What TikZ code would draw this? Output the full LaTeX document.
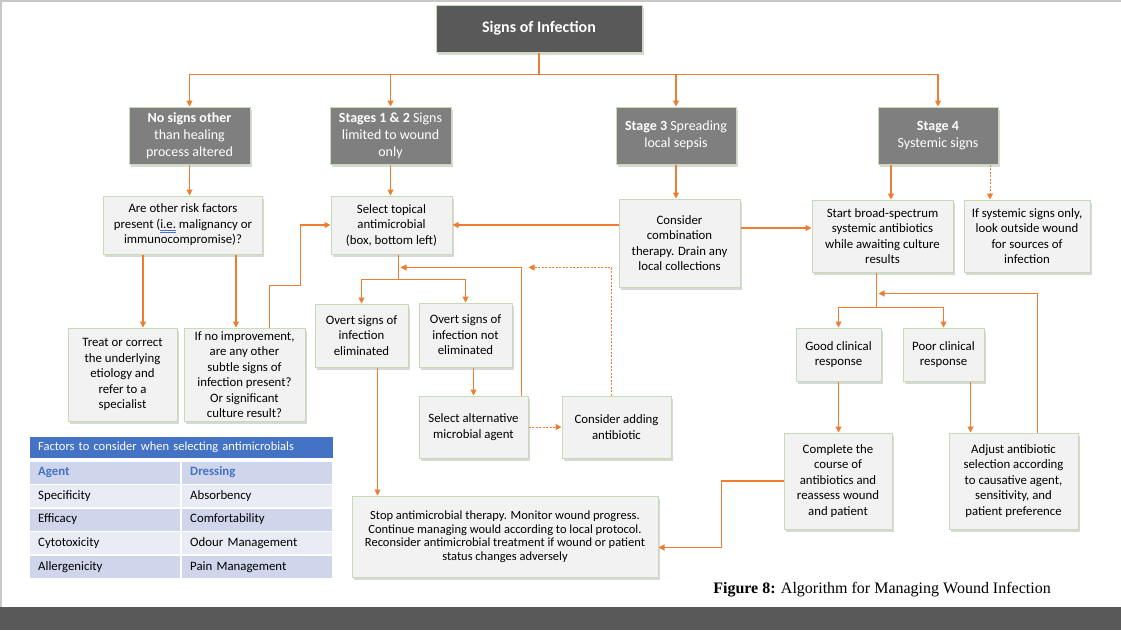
\documentclass[tikz,border=0pt]{standalone}
\usepackage{fontspec}
\setmainfont{Carlito}
\newfontfamily\captionfont{Liberation Serif}
\usetikzlibrary{arrows.meta,positioning,shadows}
\definecolor{arroworange}{RGB}{237,125,49}
\definecolor{darkgrey}{RGB}{89,89,89}
\definecolor{stagegrey}{RGB}{127,127,127}
\definecolor{boxfill}{RGB}{242,242,242}
\definecolor{boxedge}{RGB}{197,220,180}
\definecolor{tableblue}{RGB}{68,114,196}
\definecolor{rowdark}{RGB}{207,213,234}
\definecolor{rowlight}{RGB}{233,235,245}
\definecolor{framegrey}{RGB}{200,200,200}
\definecolor{spellblue}{RGB}{80,110,210}
\newcommand{\dblunder}[1]{\setbox0\hbox{#1}\rlap{\color{spellblue}\rule[-2.2pt]{\wd0}{0.6pt}}\rlap{\color{spellblue}\rule[-3.8pt]{\wd0}{0.6pt}}\box0\relax}

\begin{document}
\begin{tikzpicture}[x=1pt, y=-1pt,
    boxshadow/.style={drop shadow={shadow xshift=1.5pt, shadow yshift=-2.5pt, opacity=0.3}},
    headbox/.style={draw=boxedge, line width=1pt, fill=darkgrey, text=white, minimum width=206pt, minimum height=47pt, font=\fontsize{16}{19}\selectfont\bfseries, boxshadow},
    stage/.style={draw=boxedge, line width=1pt, fill=stagegrey, text=white, minimum height=57pt, align=center, inner sep=0pt, font=\fontsize{14}{17}\selectfont, boxshadow},
    box/.style={draw=boxedge, line width=1pt, fill=boxfill, align=center, inner sep=0pt, font=\fontsize{12.8}{15.5}\selectfont, boxshadow},
    cell/.style={fill=rowdark, minimum height=22pt, text width=134pt, inner xsep=8pt, inner ysep=0pt, align=left, anchor=west, font=\fontsize{12.8}{15}\selectfont},
    arr/.style={-{Triangle[length=6pt,width=6pt]}, line width=1.1pt, draw=arroworange},
    dotarr/.style={arr, line width=1pt, dash pattern=on 2pt off 1.5pt}
]
\useasboundingbox (0,0) rectangle (1121,630);
\fill[white] (0,0) rectangle (1121,630);
\draw[framegrey, line width=1.5pt] (1,607) -- (1,0.75) -- (1121,0.75);
\fill[darkgrey] (0,607) rectangle (1121,630);

% top and stages
\node[headbox] (top) at (539,28.5) {Signs of Infection};
\node[stage, minimum width=121pt] (s0) at (189.5,135.5) {\textbf{No signs other}\\than healing\\process altered};
\node[stage, minimum width=121pt] (s12) at (390.5,135.5) {\textbf{Stages 1 \& 2} Signs\\limited to wound\\only};
\node[stage, minimum width=120pt] (s3) at (676,135.5) {\textbf{Stage 3} Spreading\\local sepsis};
\node[stage, minimum width=120pt] (s4) at (938,135.5) {\textbf{Stage 4}\\Systemic signs};

\draw[arroworange, line width=1.1pt] (top.south) -- ++(0,22) coordinate (hub);
\draw[arr] (hub) -| (s0.north);
\draw[arr] (hub) -| (s12.north);
\draw[arr] (hub) -| (s3.north);
\draw[arr] (hub) -| (s4.north);

% second row
\node[box, minimum width=159pt, minimum height=58pt] (risk) at (183,225) {Are other risk factors\\present (\dblunder{i.e.} malignancy or\\immunocompromise)?};
\node[box, minimum width=121pt, minimum height=58pt] (topical) at (391.5,225) {Select topical\\antimicrobial\\(box, bottom left)};
\node[box, minimum width=121pt, minimum height=88pt] (comb) at (679.5,243) {Consider\\combination\\therapy. Drain any\\local collections};
\node[box, minimum width=141pt, minimum height=72pt] (broad) at (882.5,236) {Start broad-spectrum\\systemic antibiotics\\while awaiting culture\\results};
\node[box, minimum width=126pt, minimum height=72pt] (outside) at (1027,236) {If systemic signs only,\\look outside wound\\for sources of\\infection};

\draw[arr] (s0.south) -- (s0.south |- risk.north);
\draw[arr] (s12.south) -- (s12.south |- topical.north);
\draw[arr] (s3.south) -- (s3.south |- comb.north);
\draw[arr] ([xshift=-47pt]s4.south) -- ([xshift=-47pt]s4.south |- broad.north);
\draw[dotarr] ([xshift=52pt]s4.south) -- ([xshift=52pt]s4.south |- outside.north);
\draw[arr] (comb.west |- topical.east) -- (topical.east);
\coordinate (cb) at ([yshift=8pt]broad.west);
\draw[arr] (comb.east |- cb) -- (cb);

% left branch
\node[box, minimum width=109pt, minimum height=93pt] (treat) at (122.5,374.5) {Treat or correct\\the underlying\\etiology and\\refer to a\\specialist};
\node[box, minimum width=121pt, minimum height=93pt] (noimp) at (244.5,374.5) {If no improvement,\\are any other\\subtle signs of\\infection present?\\Or significant\\culture result?};
\draw[arr] ([xshift=-40pt]risk.south) -- ([xshift=-40pt]risk.south |- treat.north);
\draw[arr] ([xshift=53pt]risk.south) -- ([xshift=53pt]risk.south |- noimp.north);
\draw[arr] ([xshift=25pt]noimp.north) -- ++(0,-42) -- ++(31,0) |- (topical.west);

% topical branch
\node[box, minimum width=93pt, minimum height=63pt] (elim) at (361.5,335.5) {Overt signs of\\infection\\eliminated};
\node[box, minimum width=93pt, minimum height=64pt] (notelim) at (465.5,335) {Overt signs of\\infection not\\eliminated};
\node[box, minimum width=109pt, minimum height=62pt] (alt) at (473.5,427) {Select alternative\\microbial agent};
\node[box, minimum width=109pt, minimum height=62pt] (adding) at (616.5,427) {Consider adding\\antibiotic};
\node[box, minimum width=306pt, minimum height=81pt, font=\fontsize{12.5}{13.5}\selectfont] (stop) at (505,536.5) {Stop antimicrobial therapy. Monitor wound progress.\\Continue managing would according to local protocol.\\Reconsider antimicrobial treatment if wound or patient\\status changes adversely};

\draw[arroworange, line width=1.1pt] ([xshift=7pt]topical.south) -- ++(0,25) coordinate (tj);
\draw[arr] (tj) -| (elim.north);
\draw[arr] (tj) -| (notelim.north);
\draw[arr] (alt.north |- notelim.south) -- (alt.north);
\coordinate (tback) at ([xshift=9pt, yshift=-13pt]topical.south);
\draw[arr] ([xshift=48pt]alt.north) |- (tback);
\draw[dotarr] (alt.east) -- (adding.west);
\coordinate (aback) at (alt.east |- tback);
\draw[dotarr] ([xshift=-5pt]adding.north) |- (aback);
\draw[arr] ([xshift=16pt]elim.south) -- ([xshift=16pt]elim.south |- stop.north);

% systemic branch
\node[box, minimum width=85pt, minimum height=53pt] (good) at (838.5,354.5) {Good clinical\\response};
\node[box, minimum width=81pt, minimum height=53pt] (poor) at (943.5,354.5) {Poor clinical\\response};
\node[box, minimum width=108pt, minimum height=96pt] (complete) at (838,481) {Complete the\\course of\\antibiotics and\\reassess wound\\and patient};
\node[box, minimum width=129pt, minimum height=96pt] (adjust) at (1013.5,481) {Adjust antibiotic\\selection according\\to causative agent,\\sensitivity, and\\patient preference};

\draw[arroworange, line width=1.1pt] ([xshift=-6pt]broad.south) -- ++(0,35) coordinate (bj);
\draw[arr] (bj) -| (good.north);
\draw[arr] (bj) -| (poor.north);
\draw[arr] (good.south) -- (good.south |- complete.north);
\draw[arr] ([xshift=27pt]poor.south) -- ([xshift=27pt]poor.south |- adjust.north);
\coordinate (bback) at ([xshift=-4pt, yshift=-21pt]broad.south);
\draw[arr] ([xshift=24pt]adjust.north) |- (bback);
\coordinate (sin) at ([yshift=-11pt]stop.east);
\draw[arr] (complete.west) -- ++(-62,0) |- (sin);

% factors table
\node[cell, fill=tableblue, text=white, text width=287pt, minimum height=21pt, font=\fontsize{12.5}{15}\selectfont] (thead) at (30,447.5) {Factors to consider when selecting antimicrobials};
\node[cell, text=tableblue, font=\fontsize{12.8}{15}\selectfont\bfseries] (agent) at (30,472.5) {Agent};
\node[cell, text=tableblue, font=\fontsize{12.8}{15}\selectfont\bfseries] (dressing) at (182,472.5) {Dressing};
\node[cell, fill=rowlight] (spec) at (30,496) {Specificity};
\node[cell, fill=rowlight] (absorb) at (182,496) {Absorbency};
\node[cell] (effic) at (30,519.5) {Efficacy};
\node[cell] (comfort) at (182,519.5) {Comfortability};
\node[cell, fill=rowlight] (cyto) at (30,543) {Cytotoxicity};
\node[cell, fill=rowlight] (odour) at (182,543) {Odour Management};
\node[cell] (allerg) at (30,567) {Allergenicity};
\node[cell] (pain) at (182,567) {Pain Management};

\node[font=\captionfont\fontsize{16}{19}\selectfont] (caption) at (882,590) {\textbf{Figure 8:} Algorithm for Managing Wound Infection};
\end{tikzpicture}
\end{document}
